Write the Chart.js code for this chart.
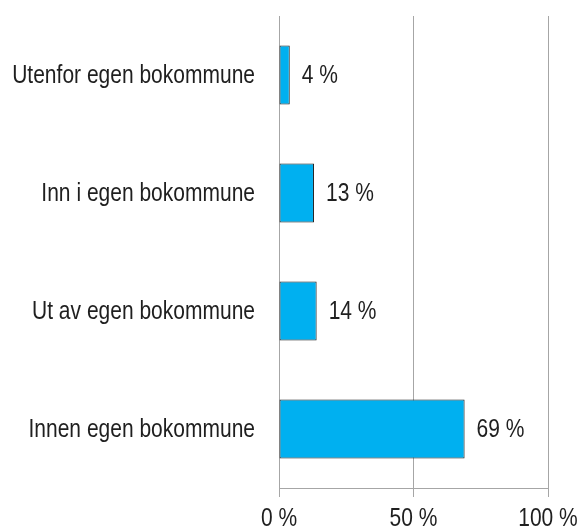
<!DOCTYPE html>
<html>
<head>
<meta charset="utf-8">
<script src="https://cdn.jsdelivr.net/npm/chart.js@4/dist/chart.umd.min.js"></script>
<style>
  html, body { margin: 0; padding: 0; background: #fff; }
  #wrap { width: 583px; height: 531px; }
</style>
</head>
<body>
<div id="wrap"><canvas id="chart"></canvas></div>
<script>
// Andel etter flyttetype
const categories = ['Utenfor egen bokommune', 'Inn i egen bokommune', 'Ut av egen bokommune', 'Innen egen bokommune'];
const shares = [4, 13, 14, 69];
const xTicks = [0, 50, 100];

const FONT = "'Liberation Sans', Arial, sans-serif";
const TEXT = '#1f1f1f';
const GRID = '#a6a6a6';
const STRETCH = 1.22; // the original text is tall and narrow

// draw text a little taller than wide, like the source picture
function tallText(ctx, txt, x, y, align) {
    ctx.save();
    ctx.translate(x, y);
    ctx.scale(1, STRETCH);
    ctx.textAlign = align;
    ctx.fillText(txt, 0, 0);
    ctx.restore();
}

const textLayer = {
    id: 'textLayer',
    afterDraw(chart) {
        const ctx = chart.ctx;
        const xs = chart.scales.x;
        const ys = chart.scales.y;
        const meta = chart.getDatasetMeta(0);
        ctx.save();
        ctx.font = '21px ' + FONT;
        ctx.fillStyle = TEXT;
        ctx.textBaseline = 'middle';
        // category labels
        categories.forEach((c, i) => {
            tallText(ctx, c, ys.right - 24, ys.getPixelForTick(i) + 1, 'right');
        });
        // value labels
        meta.data.forEach((bar, i) => {
            tallText(ctx, shares[i] + ' %', bar.x + 12, bar.y + 1, 'left');
        });
        // x tick labels
        xTicks.forEach(v => {
            tallText(ctx, v + ' %', xs.getPixelForValue(v), xs.top + 31, 'center');
        });
        ctx.restore();
    }
};

new Chart(document.getElementById('chart'), {
    type: 'bar',
    data: {
        labels: categories,
        datasets: [{
            data: shares,
            backgroundColor: '#00b0f0',
            borderColor: '#1a1a1a',
            borderWidth: 1,
            borderSkipped: false,
            categoryPercentage: 1,
            barPercentage: 0.5
        }]
    },
    options: {
        indexAxis: 'y',
        responsive: true,
        maintainAspectRatio: false,
        animation: false,
        layout: { padding: { top: 16, right: 35, left: 0, bottom: 0 } },
        plugins: {
            legend: { display: false },
            tooltip: { enabled: false }
        },
        scales: {
            x: {
                min: 0,
                max: 100,
                afterBuildTicks(scale) {
                    scale.ticks = xTicks.map(v => ({ value: v }));
                },
                afterFit(scale) {
                    scale.height = 43;
                    scale.paddingLeft = 0;
                    scale.paddingRight = 0;
                },
                grid: { color: GRID, lineWidth: 1, drawTicks: true, tickLength: 9, tickColor: GRID },
                border: { display: true, color: GRID },
                ticks: { display: false }
            },
            y: {
                afterFit(scale) {
                    scale.width = 279;
                    scale.paddingTop = 0;
                    scale.paddingBottom = 0;
                },
                grid: { display: false },
                border: { display: true, color: GRID },
                ticks: { display: false }
            }
        }
    },
    plugins: [textLayer]
});
</script>
</body>
</html>
